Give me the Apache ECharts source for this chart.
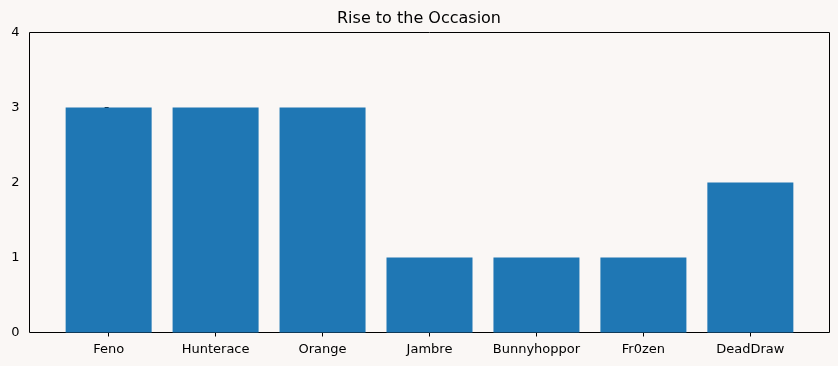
<!DOCTYPE html>
<html>
<head>
<meta charset="utf-8">
<script src="https://cdn.jsdelivr.net/npm/echarts@6/dist/echarts.min.js"></script>
<style>
html,body{margin:0;padding:0;background:#faf7f5;}
*{cursor:none !important;}
#chart{width:838px;height:366px;}
</style>
</head>
<body>
<div id="chart"></div>
<script>
const categories = ['Feno', 'Hunterace', 'Orange', 'Jambre', 'Bunnyhoppor', 'Fr0zen', 'DeadDraw'];
const values = [3, 3, 3, 1, 1, 1, 2];
const yTicks = [0, 1, 2, 3, 4];
const titleText = 'Rise to the Occasion';

const positions = categories.map((c, i) => i);
const seriesData = values.map((v, i) => [i, v]);
const font = 'DejaVu Sans';

const chart = echarts.init(document.getElementById('chart'), null, {renderer: 'canvas'});
const gridLeft = 29.5, gridRight = 8.5, gridTop = 32.5, gridBottom = 33.5;
const plotW = 838 - gridLeft - gridRight;
const xMin = -0.74, xMax = 6.74;
const barW = Math.round(plotW / (xMax - xMin) * 0.8);

chart.setOption({
  backgroundColor: '#faf7f5',
  animation: false,
  tooltip: {show: false},
  title: {
    text: titleText, left: 'center', top: 6,
    textStyle: {fontFamily: font, fontSize: 16, fontWeight: 'normal', color: '#000'}
  },
  grid: {
    left: gridLeft, right: gridRight, top: gridTop, bottom: gridBottom,
    show: true, borderColor: '#000', borderWidth: 1, backgroundColor: 'transparent'
  },
  xAxis: {
    type: 'value', min: xMin, max: xMax,
    axisLine: {show: false},
    splitLine: {show: false},
    axisTick: {show: true, customValues: positions, length: 4, lineStyle: {color: '#000'}},
    axisLabel: {
      customValues: positions, color: '#000', fontFamily: font, fontSize: 13, margin: 11,
      formatter: v => categories[Math.round(v)]
    }
  },
  yAxis: {
    type: 'value', min: 0, max: 4, interval: 1,
    axisLine: {show: false},
    splitLine: {show: false},
    axisTick: {show: true, length: 4, lineStyle: {color: '#000'}},
    axisLabel: {
      color: '#000', fontFamily: font, fontSize: 13, margin: 10,
      formatter: v => yTicks.includes(v) ? String(v) : ''
    }
  },
  series: [{
    type: 'bar',
    data: seriesData,
    barWidth: barW,
    silent: true,
    emphasis: {disabled: true},
    label: {show: false},
    itemStyle: {color: '#1f77b4', borderWidth: 0}
  }]
});
</script>
</body>
</html>
